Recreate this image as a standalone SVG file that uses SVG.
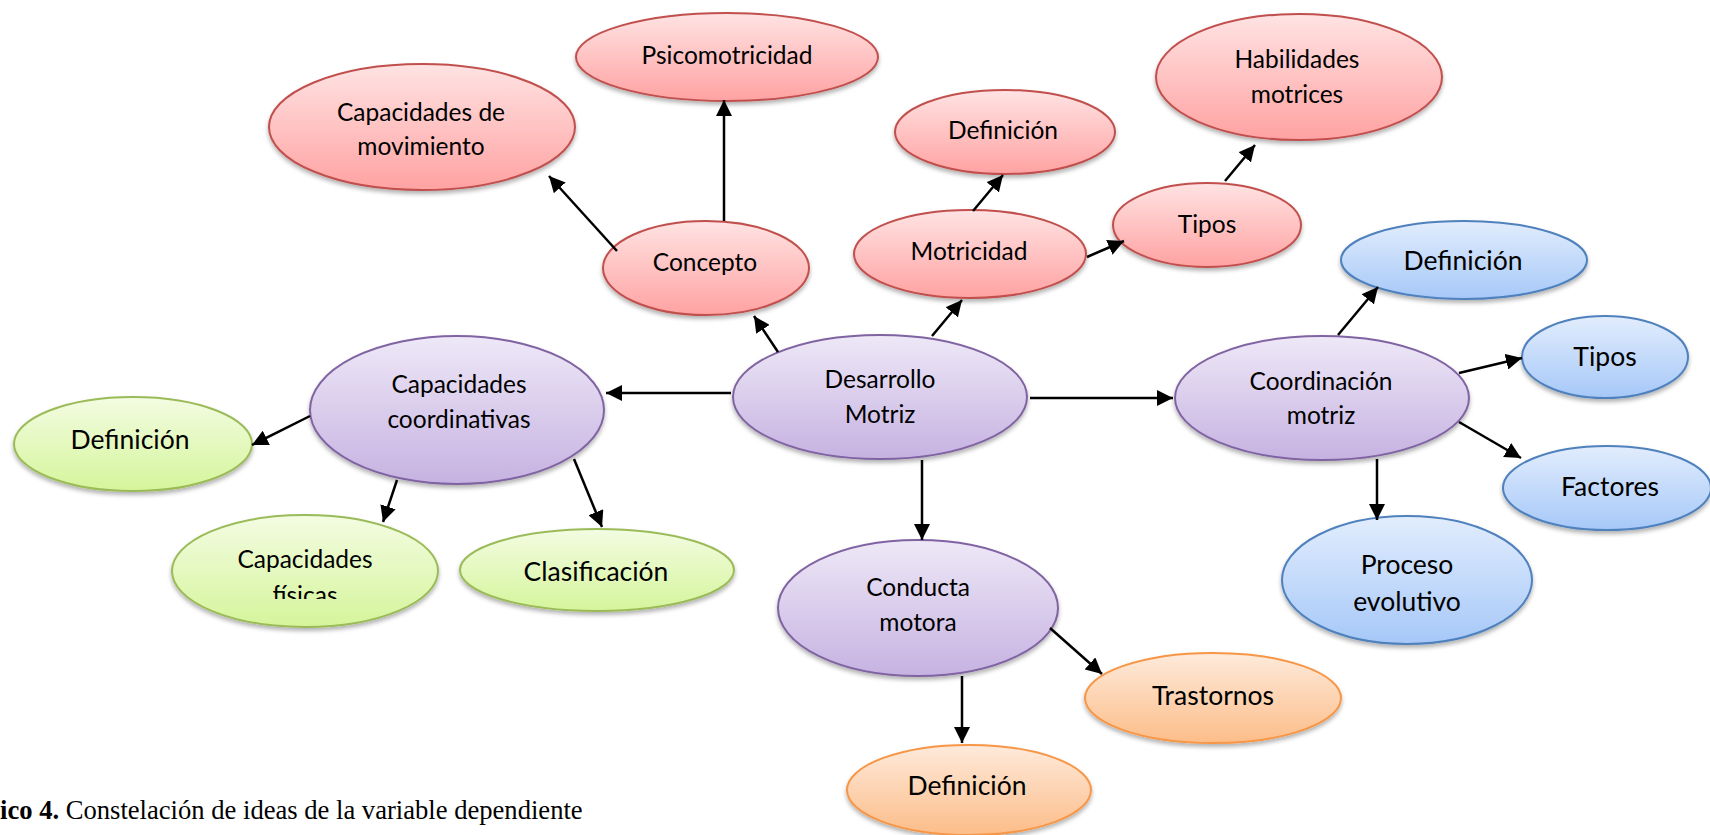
<svg xmlns="http://www.w3.org/2000/svg" width="1710" height="835" viewBox="0 0 1710 835">
<style>
.t{font-family:Lato,"Noto Sans",sans-serif;fill:#000;text-anchor:middle}
.a{font-size:24.5px}
.b{font-size:26.5px}
.red{fill:url(#gr);stroke:#c0504d;stroke-width:2}
.pur{fill:url(#gp);stroke:#8064a2;stroke-width:2}
.grn{fill:url(#gg);stroke:#9bbb59;stroke-width:2}
.blu{fill:url(#gb);stroke:#4f81bd;stroke-width:2}
.org{fill:url(#go);stroke:#f79646;stroke-width:2}
.n{filter:url(#sh)}
.c line{stroke:#000;stroke-width:2.5;marker-end:url(#ah)}
.cap{font-family:"Liberation Serif","Times New Roman",serif;font-size:26.6px;fill:#000}
</style>
<defs>
<linearGradient id="gr" x1="0" y1="0" x2="0" y2="1"><stop offset="0" stop-color="#ffe3e3"/><stop offset="1" stop-color="#ffa2a2"/></linearGradient>
<linearGradient id="gp" x1="0" y1="0" x2="0" y2="1"><stop offset="0" stop-color="#eee8f7"/><stop offset="1" stop-color="#c6b2e1"/></linearGradient>
<linearGradient id="gg" x1="0" y1="0" x2="0" y2="1"><stop offset="0" stop-color="#f3fce2"/><stop offset="1" stop-color="#d5f59b"/></linearGradient>
<linearGradient id="gb" x1="0" y1="0" x2="0" y2="1"><stop offset="0" stop-color="#e2edfd"/><stop offset="1" stop-color="#a6c8f8"/></linearGradient>
<linearGradient id="go" x1="0" y1="0" x2="0" y2="1"><stop offset="0" stop-color="#feeadb"/><stop offset="1" stop-color="#fcbd89"/></linearGradient>
<filter id="sh" x="-10%" y="-10%" width="120%" height="130%"><feDropShadow dx="0" dy="3" stdDeviation="2" flood-color="#000" flood-opacity="0.3"/></filter>
<marker id="ah" markerUnits="userSpaceOnUse" markerWidth="18" markerHeight="16" refX="16" refY="8" orient="auto"><path d="M0,0 L16,8 L0,16 z" fill="#000"/></marker>
<clipPath id="cf"><rect x="160" y="500" width="300" height="99"/></clipPath>
</defs>

<g id="psicomotricidad"><ellipse class="red n" cx="727" cy="57" rx="151" ry="44"/><text class="t a" x="727" y="64">Psicomotricidad</text></g>
<g id="cap-movimiento"><ellipse class="red n" cx="422" cy="127" rx="153" ry="63"/><text class="t a" x="421" y="121">Capacidades de</text><text class="t a" x="421" y="155">movimiento</text></g>
<g id="concepto"><ellipse class="red n" cx="706" cy="268" rx="103" ry="47"/><text class="t a" x="705" y="271">Concepto</text></g>
<g id="motricidad"><ellipse class="red n" cx="970" cy="254" rx="116" ry="44"/><text class="t a" x="969" y="260">Motricidad</text></g>
<g id="definicion-motricidad"><ellipse class="red n" cx="1005" cy="132" rx="110" ry="42"/><text class="t a" x="1003" y="139">Definición</text></g>
<g id="tipos-motricidad"><ellipse class="red n" cx="1207" cy="225" rx="94" ry="42"/><text class="t a" x="1207" y="233">Tipos</text></g>
<g id="habilidades-motrices"><ellipse class="red n" cx="1299" cy="77" rx="143" ry="63"/><text class="t a" x="1297" y="68">Habilidades</text><text class="t a" x="1297" y="103">motrices</text></g>

<g id="desarrollo-motriz"><ellipse class="pur n" cx="880" cy="397" rx="147" ry="62"/><text class="t a" x="880" y="388">Desarrollo</text><text class="t a" x="880" y="423">Motriz</text></g>
<g id="cap-coordinativas"><ellipse class="pur n" cx="457" cy="410" rx="147" ry="74"/><text class="t a" x="459" y="393">Capacidades</text><text class="t a" x="459" y="428">coordinativas</text></g>
<g id="coordinacion-motriz"><ellipse class="pur n" cx="1322" cy="398" rx="147" ry="62"/><text class="t a" x="1321" y="390">Coordinación</text><text class="t a" x="1321" y="424">motriz</text></g>
<g id="conducta-motora"><ellipse class="pur n" cx="918" cy="608" rx="140" ry="68"/><text class="t a" x="918" y="596">Conducta</text><text class="t a" x="918" y="631">motora</text></g>

<g id="definicion-coordinativas"><ellipse class="grn n" cx="133" cy="444" rx="119" ry="47"/><text class="t b" x="130" y="449">Definición</text></g>
<g id="capacidades-fisicas"><ellipse class="grn n" cx="305" cy="571" rx="133" ry="56"/><text class="t a" x="305" y="568">Capacidades</text><text class="t a" x="305" y="604" clip-path="url(#cf)">físicas</text></g>
<g id="clasificacion"><ellipse class="grn n" cx="597" cy="570" rx="137" ry="41"/><text class="t b" x="596" y="581">Clasificación</text></g>

<g id="definicion-coordinacion"><ellipse class="blu n" cx="1464" cy="260" rx="123" ry="39"/><text class="t b" x="1463" y="270">Definición</text></g>
<g id="tipos-coordinacion"><ellipse class="blu n" cx="1605" cy="357" rx="83" ry="41"/><text class="t b" x="1605" y="366">Tipos</text></g>
<g id="factores"><ellipse class="blu n" cx="1607" cy="488" rx="104" ry="42"/><text class="t b" x="1610" y="496">Factores</text></g>
<g id="proceso-evolutivo"><ellipse class="blu n" cx="1407" cy="580" rx="125" ry="64"/><text class="t b" x="1407" y="574">Proceso</text><text class="t b" x="1407" y="611">evolutivo</text></g>

<g id="trastornos"><ellipse class="org n" cx="1213" cy="698" rx="128" ry="45"/><text class="t b" x="1213" y="705">Trastornos</text></g>
<g id="definicion-conducta"><ellipse class="org n" cx="969" cy="790" rx="122" ry="45"/><text class="t b" x="967" y="795">Definición</text></g>

<g id="connectors" class="c">
<line x1="778" y1="352" x2="754" y2="316"/>
<line x1="617" y1="251" x2="549" y2="176"/>
<line x1="724" y1="221" x2="724" y2="100"/>
<line x1="932" y1="336" x2="962" y2="300"/>
<line x1="973" y1="211" x2="1003" y2="175"/>
<line x1="1087" y1="257" x2="1124" y2="241"/>
<line x1="1225" y1="181" x2="1255" y2="145"/>
<line x1="731" y1="393" x2="606" y2="393"/>
<line x1="1030" y1="398" x2="1173" y2="398"/>
<line x1="922" y1="460" x2="922" y2="540"/>
<line x1="962" y1="676" x2="962" y2="743"/>
<line x1="1050" y1="628" x2="1102" y2="674"/>
<line x1="310" y1="416" x2="252" y2="445"/>
<line x1="397" y1="480" x2="383" y2="522"/>
<line x1="574" y1="459" x2="602" y2="527"/>
<line x1="1338" y1="335" x2="1378" y2="287"/>
<line x1="1459" y1="373" x2="1522" y2="358"/>
<line x1="1459" y1="422" x2="1521" y2="458"/>
<line x1="1377" y1="459" x2="1377" y2="520"/>
</g>

<text class="cap" x="0" y="819"><tspan font-weight="bold">ico 4.</tspan> Constelación de ideas de la variable dependiente</text>
</svg>
